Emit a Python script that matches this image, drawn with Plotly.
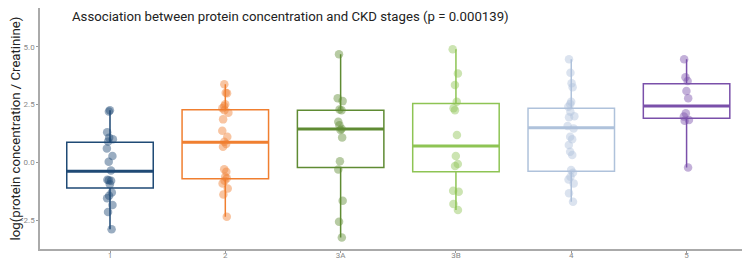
import plotly.graph_objects as go

categories = ["1", "2", "3A", "3B", "4", "5"]

g1 = [2.25, 2.2, 1.3, 1.07, 1.0, 0.9, 0.6, 0.27, 0.03, -0.35, -0.75, -0.8, -0.95,
      -0.78, -1.3, -1.45, -1.55, -1.85, -2.15, -2.9]
g2 = [3.38, 3.01, 2.99, 2.51, 2.44, 2.34, 2.26, 2.15, 1.86, 1.37, 1.11, 0.89, 0.79,
      0.68, -0.30, -0.41, -0.62, -0.69, -0.80, -0.91, -1.13, -1.39, -2.35]
g3a = [4.68, 2.77, 2.65, 2.29, 2.26, 1.76, 1.61, 1.45, 1.40, 1.08, 0.05, -0.31,
       -1.66, -2.57, -3.25]
g3b = [4.89, 3.85, 3.35, 2.62, 2.34, 2.26, 1.18, 0.27, -0.07, -0.16, -1.23, -1.27,
       -1.80, -2.06]
g4 = [4.46, 3.88, 3.42, 3.25, 2.62, 2.52, 2.41, 2.19, 2.00, 1.95, 1.57, 1.47, 1.11,
      1.00, 0.75, 0.46, 0.32, -0.33, -0.45, -0.62, -0.74, -0.91, -1.34, -1.71]
g5 = [4.46, 3.68, 3.52, 3.09, 2.77, 2.12, 1.98, 1.83, 1.80, -0.22]
groups = [g1, g2, g3a, g3b, g4, g5]

q1 = [-1.11, -0.71, -0.22, -0.41, -0.38, 1.91]
median = [-0.38, 0.87, 1.44, 0.71, 1.50, 2.44]
q3 = [0.87, 2.28, 2.26, 2.55, 2.34, 3.40]
lowerfence = [-2.9, -2.35, -3.25, -2.06, -1.71, -0.22]
upperfence = [2.25, 3.38, 4.68, 4.89, 4.46, 4.46]

colors = ["#1F4A75", "#F07F30", "#5F8B33", "#8EC454", "#AFC2DB", "#7A50AA"]

title_text = "Association between protein concentration and CKD stages (p = 0.000139)"
y_title = "log(protein concentration / Creatinine)"

fig = go.Figure()
for i, cat in enumerate(categories):
    c = colors[i]
    fig.add_trace(go.Box(
        x=[cat], q1=[q1[i]], median=[median[i]], q3=[q3[i]],
        lowerfence=[lowerfence[i]], upperfence=[upperfence[i]],
        width=0.75, whiskerwidth=0, boxpoints=False,
        fillcolor="rgba(255,255,255,0)", line=dict(color=c, width=1.5),
        showlegend=False, hoverinfo="skip"))
    fig.add_trace(go.Box(
        x=[cat], q1=[median[i]], median=[median[i]], q3=[median[i]],
        lowerfence=[median[i]], upperfence=[median[i]],
        width=0.75, whiskerwidth=0, boxpoints=False,
        fillcolor="rgba(255,255,255,0)", line=dict(color=c, width=3),
        showlegend=False, hoverinfo="skip"))
    vals = groups[i]
    fig.add_trace(go.Box(
        x=[cat] * len(vals), y=vals, boxpoints="all", jitter=0.09, pointpos=0,
        width=0.75, fillcolor="rgba(0,0,0,0)",
        line=dict(color="rgba(0,0,0,0)", width=0),
        marker=dict(color=c, opacity=0.45, size=8.5, line=dict(width=0)),
        showlegend=False))

# page body has an 8px margin: figure is offset by (8, 8) in the window
fig.update_layout(
    width=742, height=250,
    margin=dict(l=32, r=0, t=0, b=9),
    paper_bgcolor="white", plot_bgcolor="white",
    boxmode="overlay",
    font=dict(family="Roboto", color="#222"),
    xaxis=dict(type="category", categoryorder="array", categoryarray=categories,
               range=[-0.607, 5.55], showgrid=False, zeroline=False,
               showline=True, linecolor="#AAAAAA", linewidth=1.5,
               ticks="outside", ticklen=2, tickcolor="#999999",
               ticklabelstandoff=-4,
               tickfont=dict(size=8, color="#888888"), automargin=False),
    yaxis=dict(range=[-3.75, 6.68], showgrid=False, zeroline=False,
               showline=True, linecolor="#AAAAAA", linewidth=1.5,
               tickvals=[-2.5, 0, 2.5, 5.0], tickformat=".1f",
               ticks="outside", ticklen=2, tickcolor="#999999",
               tickfont=dict(size=8, color="#888888"), automargin=False,
               title=dict(text=y_title, font=dict(size=13.2, color="#222"), standoff=10)),
    annotations=[dict(text=title_text, xref="paper", yref="paper",
                      x=0.042, y=0.963, xanchor="left", yanchor="middle",
                      showarrow=False, font=dict(size=13.2, color="#222"))],
)

fig.write_html("out.html")
